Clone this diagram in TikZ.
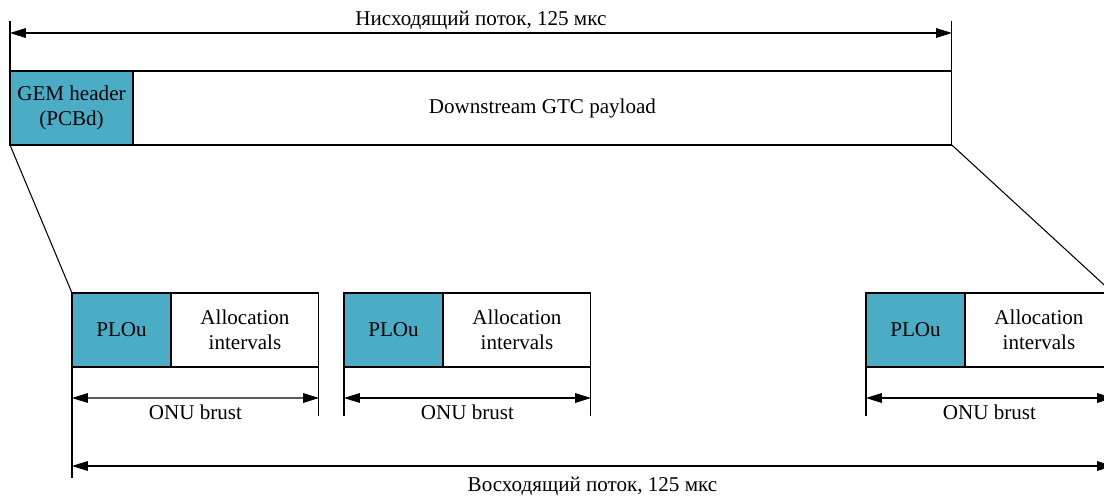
\documentclass[tikz,border=0pt]{standalone}
\usepackage{fontspec}
\setmainfont{Liberation Serif}
\usetikzlibrary{arrows.meta,positioning}
\definecolor{gemblue}{RGB}{75,172,198}

\begin{document}
\begin{tikzpicture}[x=0.02cm,y=-0.02cm,>={Triangle[length=9pt,width=5.5pt]},
                    line width=0.6pt,font=\fontsize{12}{14}\selectfont,
                    cell/.style={draw,outer sep=0pt,inner sep=0pt,minimum height=1.48cm,align=center},
                    blue cell/.style={cell,fill=gemblue}]
\useasboundingbox (0,0) rectangle (1104,495);

% downstream frame
\node[blue cell,minimum width=2.46cm,anchor=north west] (gem) at (10,71) {GEM header\\(PCBd)};
\node[cell,minimum width=16.38cm,right=0pt of gem] (gtc) {Downstream GTC payload};

% upstream bursts
\node[blue cell,minimum width=1.98cm,anchor=north west] (plou1) at (72,293) {PLOu};
\node[cell,minimum width=2.96cm,right=0pt of plou1] (alloc1) {Allocation\\intervals};
\node[blue cell,minimum width=1.98cm,anchor=north west] (plou2) at (344,293) {PLOu};
\node[cell,minimum width=2.96cm,right=0pt of plou2] (alloc2) {Allocation\\intervals};
\node[blue cell,minimum width=1.98cm,anchor=north west] (plou3) at (866,293) {PLOu};
\node[cell,minimum width=2.96cm,right=0pt of plou3] (alloc3) {Allocation\\intervals};

% zoom lines
\draw (gem.south west) -- (plou1.north west);
\draw (gtc.south east) -- (alloc3.north east);

% extension lines
\draw (gem.north west) -- ++(0,-50) coordinate (dn l);
\draw (gtc.north east) -- ++(0,-50) coordinate (dn r);
\draw (plou1.south west) -- ++(0,111) coordinate (up l);
\path (plou1.south west) ++(0,31) coordinate (b1l);
\draw (alloc1.south east) -- ++(0,49) coordinate (b1r);
\draw (plou2.south west) -- ++(0,49) coordinate (b2l);
\draw (alloc2.south east) -- ++(0,49) coordinate (b2r);
\draw (plou3.south west) -- ++(0,49) coordinate (b3l);
\draw (alloc3.south east) -- ++(0,111) coordinate (up r);

% dimension arrows
\draw[<->] ([yshift=-0.24cm]dn l) -- node[above=-2pt] (dn label) {Нисходящий поток, 125 мкс} ([yshift=-0.24cm]dn r);
\draw[<->] (b1l) -- node[below=0pt] (b1 label) {ONU brust} ([yshift=0.36cm]b1r);
\draw[<->] ([yshift=0.36cm]b2l) -- node[below=0pt] (b2 label) {ONU brust} ([yshift=0.36cm]b2r);
\draw[<->] ([yshift=0.36cm]b3l) -- node[below=0pt] (b3 label) {ONU brust} ([yshift=0.36cm]alloc3.south east |- b3l);
\draw[<->] ([yshift=0.24cm]up l) -- node[below=2.5pt] (up label) {Восходящий поток, 125 мкс} ([yshift=0.24cm]up r);
\end{tikzpicture}
\end{document}
